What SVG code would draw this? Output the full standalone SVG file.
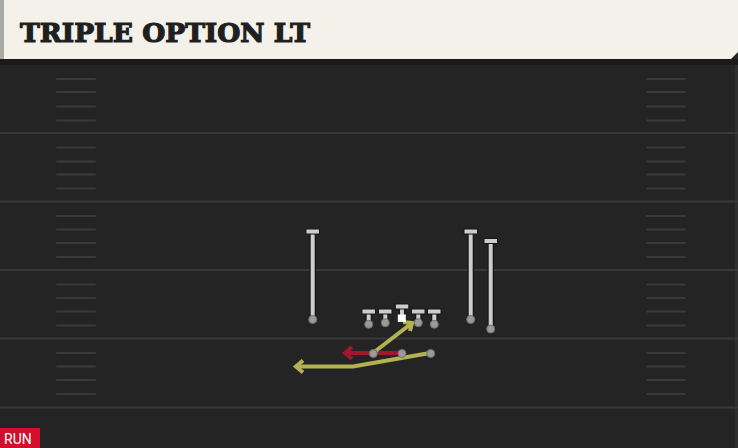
<svg xmlns="http://www.w3.org/2000/svg" width="738" height="448" viewBox="0 0 738 448">
<style>
.yl{stroke:#393939;stroke-width:2}
.hm{stroke:#3a3a3a;stroke-width:2;stroke-linecap:round}
.bar{stroke:#161616;stroke-width:6.5;stroke-linecap:butt}
.barc{stroke:#cdcdcd;stroke-width:4}
.tee{fill:#cdcdcd;stroke:#161616;stroke-width:1}
.dot{fill:#9a9a9a;stroke:#707070;stroke-width:1}
.route{fill:none;stroke-width:4;stroke-linejoin:miter;stroke-linecap:butt}
.ylw{stroke:#b3b253}
.red{stroke:#a3172c}
</style>
<rect x="0" y="0" width="738" height="448" fill="#242424"/>
<rect x="735" y="60" width="3" height="388" fill="#2f2f2f"/>
<g id="field">
<line class="yl" x1="0" y1="133" x2="738" y2="133"/>
<line class="yl" x1="0" y1="201.5" x2="738" y2="201.5"/>
<line class="yl" x1="0" y1="270" x2="738" y2="270"/>
<line class="yl" x1="0" y1="338.5" x2="738" y2="338.5"/>
<line class="yl" x1="0" y1="407.5" x2="738" y2="407.5"/>
<g id="hashes-left">
<line class="hm" x1="57" y1="79" x2="95" y2="79"/><line class="hm" x1="57" y1="92" x2="95" y2="92"/><line class="hm" x1="57" y1="106.5" x2="95" y2="106.5"/><line class="hm" x1="57" y1="120.5" x2="95" y2="120.5"/>
<line class="hm" x1="57" y1="147.5" x2="95" y2="147.5"/><line class="hm" x1="57" y1="161.5" x2="95" y2="161.5"/><line class="hm" x1="57" y1="174.5" x2="95" y2="174.5"/><line class="hm" x1="57" y1="188.5" x2="95" y2="188.5"/>
<line class="hm" x1="57" y1="216" x2="95" y2="216"/><line class="hm" x1="57" y1="229.5" x2="95" y2="229.5"/><line class="hm" x1="57" y1="243" x2="95" y2="243"/><line class="hm" x1="57" y1="257" x2="95" y2="257"/>
<line class="hm" x1="57" y1="284.5" x2="95" y2="284.5"/><line class="hm" x1="57" y1="298" x2="95" y2="298"/><line class="hm" x1="57" y1="311.5" x2="95" y2="311.5"/><line class="hm" x1="57" y1="325.5" x2="95" y2="325.5"/>
<line class="hm" x1="57" y1="353" x2="95" y2="353"/><line class="hm" x1="57" y1="366.5" x2="95" y2="366.5"/><line class="hm" x1="57" y1="380" x2="95" y2="380"/><line class="hm" x1="57" y1="394" x2="95" y2="394"/>
</g>
<g id="hashes-right">
<line class="hm" x1="647" y1="79" x2="685" y2="79"/><line class="hm" x1="647" y1="92" x2="685" y2="92"/><line class="hm" x1="647" y1="106.5" x2="685" y2="106.5"/><line class="hm" x1="647" y1="120.5" x2="685" y2="120.5"/>
<line class="hm" x1="647" y1="147.5" x2="685" y2="147.5"/><line class="hm" x1="647" y1="161.5" x2="685" y2="161.5"/><line class="hm" x1="647" y1="174.5" x2="685" y2="174.5"/><line class="hm" x1="647" y1="188.5" x2="685" y2="188.5"/>
<line class="hm" x1="647" y1="216" x2="685" y2="216"/><line class="hm" x1="647" y1="229.5" x2="685" y2="229.5"/><line class="hm" x1="647" y1="243" x2="685" y2="243"/><line class="hm" x1="647" y1="257" x2="685" y2="257"/>
<line class="hm" x1="647" y1="284.5" x2="685" y2="284.5"/><line class="hm" x1="647" y1="298" x2="685" y2="298"/><line class="hm" x1="647" y1="311.5" x2="685" y2="311.5"/><line class="hm" x1="647" y1="325.5" x2="685" y2="325.5"/>
<line class="hm" x1="647" y1="353" x2="685" y2="353"/><line class="hm" x1="647" y1="366.5" x2="685" y2="366.5"/><line class="hm" x1="647" y1="380" x2="685" y2="380"/><line class="hm" x1="647" y1="394" x2="685" y2="394"/>
</g>
</g>
<g id="header">
<rect x="0" y="59" width="738" height="6" fill="#1a1a1a"/>
<path d="M0 0 H738 V52 L731 59 H0 Z" fill="#f4f1ea"/>
<rect x="0" y="0" width="4" height="59" fill="#a9a9a6"/>
<text x="20" y="42" font-family="DejaVu Serif, serif" font-weight="bold" font-size="26" fill="#1f1f1f" stroke="#1f1f1f" stroke-width="1.2" textLength="290" lengthAdjust="spacingAndGlyphs">TRIPLE OPTION LT</text>
</g>
<g id="connectors">
<polyline class="route red" points="400,353 345,353"/>
<polyline class="route red" points="352,347 345,353 352,359"/>
<polyline class="route ylw" points="373,353 412,323"/>
<polyline class="route ylw" points="403,322 412,323 410,331"/>
<polyline class="route ylw" points="430,353 353,366.5 296,366.5"/>
<polyline class="route ylw" points="303,360.5 296,366.5 303,372.5"/>
</g>
<g id="wr-left">
<line class="bar" x1="312.7" y1="231" x2="312.7" y2="319"/><line class="barc" x1="312.7" y1="232" x2="312.7" y2="319"/>
<rect class="tee" x="306" y="229" width="13.5" height="5"/>
<circle class="dot" cx="312.7" cy="319.5" r="4"/>
</g>
<g id="wr-right1">
<line class="bar" x1="470.7" y1="231" x2="470.7" y2="319"/><line class="barc" x1="470.7" y1="232" x2="470.7" y2="319"/>
<rect class="tee" x="464" y="229" width="13.5" height="5"/>
<circle class="dot" cx="470.7" cy="319.5" r="4"/>
</g>
<g id="wr-right2">
<line class="bar" x1="490.7" y1="240.5" x2="490.7" y2="328.5"/><line class="barc" x1="490.7" y1="241.5" x2="490.7" y2="328.5"/>
<rect class="tee" x="484" y="238.5" width="13.5" height="5"/>
<circle class="dot" cx="490.7" cy="329" r="4"/>
</g>
<g id="lt">
<line class="bar" x1="368.7" y1="311" x2="368.7" y2="323"/><line class="barc" x1="368.7" y1="312" x2="368.7" y2="323"/>
<rect class="tee" x="362" y="309" width="13.5" height="5"/>
<circle class="dot" cx="368.7" cy="324.3" r="4"/>
</g>
<g id="lg">
<line class="bar" x1="385.3" y1="310" x2="385.3" y2="321"/><line class="barc" x1="385.3" y1="311" x2="385.3" y2="321"/>
<rect class="tee" x="378.5" y="309" width="13.5" height="5"/>
<circle class="dot" cx="385.3" cy="322.7" r="4"/>
</g>
<g id="c">
<line class="bar" x1="402" y1="305" x2="402" y2="315"/><line class="barc" x1="402" y1="306" x2="402" y2="315"/>
<rect class="tee" x="395.3" y="304" width="13.5" height="5"/>
<rect x="397.8" y="314.5" width="8" height="7.5" fill="#ffffff"/>
</g>
<g id="rg">
<line class="bar" x1="418.3" y1="310" x2="418.3" y2="321"/><line class="barc" x1="418.3" y1="311" x2="418.3" y2="321"/>
<rect class="tee" x="411.5" y="309" width="13.5" height="5"/>
<circle class="dot" cx="418.3" cy="322.7" r="4"/>
</g>
<g id="rt">
<line class="bar" x1="434.3" y1="311" x2="434.3" y2="323"/><line class="barc" x1="434.3" y1="312" x2="434.3" y2="323"/>
<rect class="tee" x="427.5" y="309" width="13.5" height="5"/>
<circle class="dot" cx="434.3" cy="324.3" r="4"/>
</g>
<g id="fb"><circle class="dot" cx="373.3" cy="353.5" r="4"/></g>
<g id="qb"><circle class="dot" cx="402" cy="353.5" r="4"/></g>
<g id="hb"><circle class="dot" cx="430.7" cy="353.5" r="4"/></g>
<g id="tag">
<rect x="0" y="428" width="40" height="20" fill="#d0102c"/>
<text x="4" y="444" font-family="Roboto, Liberation Sans, sans-serif" font-size="14" fill="#ffffff">RUN</text>
</g>
</svg>
